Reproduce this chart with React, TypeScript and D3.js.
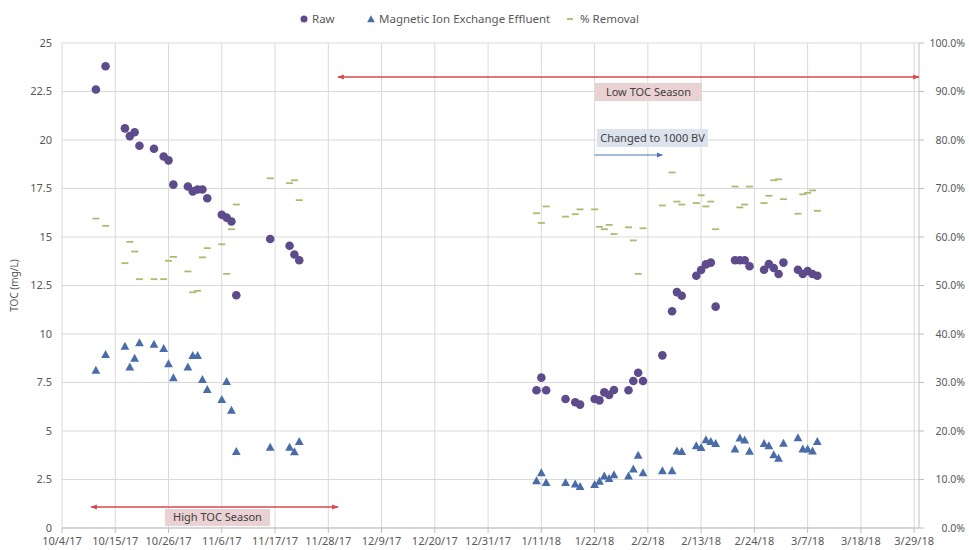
import React from "react";
import * as d3 from "d3";

const dates = [
  "2017-10-11","2017-10-13","2017-10-17","2017-10-18","2017-10-19","2017-10-20","2017-10-23","2017-10-25","2017-10-26","2017-10-27",
  "2017-10-30","2017-10-31","2017-11-01","2017-11-02","2017-11-03","2017-11-06","2017-11-07","2017-11-08","2017-11-09","2017-11-16",
  "2017-11-20","2017-11-21","2017-11-22",
  "2018-01-10","2018-01-11","2018-01-12","2018-01-16","2018-01-18","2018-01-19","2018-01-22","2018-01-23","2018-01-24","2018-01-25",
  "2018-01-26","2018-01-29","2018-01-30","2018-01-31","2018-02-01","2018-02-05","2018-02-07","2018-02-08","2018-02-09","2018-02-12",
  "2018-02-13","2018-02-14","2018-02-15","2018-02-16","2018-02-20","2018-02-21","2018-02-22","2018-02-23","2018-02-26","2018-02-27",
  "2018-02-28","2018-03-01","2018-03-02","2018-03-05","2018-03-06","2018-03-07","2018-03-08","2018-03-09",
];

const raw = [
  22.6,23.8,20.6,20.2,20.4,19.7,19.55,19.15,18.95,17.7,
  17.6,17.35,17.45,17.45,17.0,16.15,16.0,15.8,12.0,14.9,
  14.55,14.1,13.8,
  7.1,7.75,7.1,6.65,6.48,6.36,6.65,6.58,6.99,6.86,
  7.11,7.1,7.58,8.0,7.58,8.9,11.17,12.16,11.97,13.0,
  13.3,13.59,13.68,11.41,13.8,13.8,13.8,13.49,13.31,13.6,
  13.4,13.09,13.68,13.31,13.09,13.25,13.09,13.0,
];

const effluent = [
  8.14,8.95,9.37,8.3,8.76,9.55,9.48,9.26,8.47,7.75,
  8.3,8.9,8.9,7.66,7.15,6.63,7.56,6.07,3.95,4.17,
  4.17,3.93,4.47,
  2.44,2.85,2.35,2.35,2.27,2.15,2.25,2.42,2.68,2.56,
  2.75,2.68,3.04,3.76,2.85,2.95,2.95,3.97,3.95,4.25,
  4.15,4.55,4.47,4.36,4.08,4.64,4.54,3.96,4.36,4.25,
  3.78,3.6,4.37,4.66,4.08,4.08,3.97,4.47,
];

const removalPct = [
  63.8,62.3,54.6,59.0,57.0,51.3,51.3,51.3,55.1,55.9,
  52.9,48.6,48.9,55.8,57.7,58.5,52.4,61.6,66.7,72.1,
  71.1,71.7,67.6,
  64.9,62.9,66.3,64.2,64.7,65.7,65.7,62.1,61.6,62.5,
  60.6,62.0,59.3,52.4,61.8,66.5,73.3,67.3,66.7,67.0,
  68.6,66.3,67.3,61.6,70.4,66.1,66.7,70.4,67.0,68.5,
  71.7,71.9,67.8,64.8,68.8,69.1,69.6,65.4,
];

const leftTicks = [0, 2.5, 5, 7.5, 10, 12.5, 15, 17.5, 20, 22.5, 25];
const rightTicks = [0, 0.1, 0.2, 0.3, 0.4, 0.5, 0.6, 0.7, 0.8, 0.9, 1.0];
const xTickCount = 17;
const xTickStepDays = 11;
const seriesNames = ["Raw", "Magnetic Ion Exchange Effluent", "% Removal"];

const W = 969, H = 550;
const L = 62, R = 919, T = 43, B = 528;
const COL_RAW = "#5d4b8c";
const COL_EFF = "#4a6da8";
const COL_REM = "#b3b870";
const GRID = "#d9d9d9";
const TXT = "#595959";
const FONT = "'Noto Sans', 'Open Sans', sans-serif";
const RED = "#d9474a";

const parse = d3.utcParse("%Y-%m-%d");
const fmt = d3.utcFormat("%-m/%-d/%y");
const start = new Date(Date.UTC(2017, 9, 4));
const end = new Date(Date.UTC(2018, 2, 30));

export default function App() {
  const x = d3.scaleUtc().domain([start, end]).range([L, R]);
  const yL = d3.scaleLinear().domain([0, 25]).range([B, T]);
  const yR = d3.scaleLinear().domain([0, 1]).range([B, T]);
  const xTicks = d3.range(xTickCount).map(
    (i) => new Date(Date.UTC(2017, 9, 4 + i * xTickStepDays))
  );
  const pts = dates.map((d, i) => ({
    x: x(parse(d) as Date),
    raw: yL(raw[i]),
    eff: yL(effluent[i]),
    rem: yR(removalPct[i] / 100),
  }));
  const tri = (cx: number, cy: number, s: number) =>
    `M${cx},${cy - s * 0.55}L${cx + s * 0.55},${cy + s * 0.45}L${cx - s * 0.55},${cy + s * 0.45}Z`;

  const arrowLowY = 77;
  const arrowHighY = 507;
  const arrowBlueY = 155;
  const lowX0 = x(new Date(Date.UTC(2017, 10, 30)));
  const highX0 = x(new Date(Date.UTC(2017, 9, 10)));
  const blueX0 = x(new Date(Date.UTC(2018, 0, 22)));
  const blueX1 = x(new Date(Date.UTC(2018, 1, 5)));

  return (
    <svg
      width={W}
      height={H}
      style={{ position: "absolute", left: 0, top: 0, background: "#fff" }}
      fontFamily={FONT}
    >
      <defs>
        <marker id="redEnd" viewBox="0 0 10 10" refX="9" refY="5" markerWidth="5" markerHeight="5" orient="auto">
          <path d="M0,1L10,5L0,9Z" fill={RED} />
        </marker>
        <marker id="redStart" viewBox="0 0 10 10" refX="1" refY="5" markerWidth="5" markerHeight="5" orient="auto">
          <path d="M10,1L0,5L10,9Z" fill={RED} />
        </marker>
        <marker id="blueEnd" viewBox="0 0 10 10" refX="9" refY="5" markerWidth="5" markerHeight="5" orient="auto">
          <path d="M0,1L10,5L0,9Z" fill="#4f74b8" />
        </marker>
      </defs>
      <rect width={W} height={H} fill="#fff" />

      {/* grid */}
      {leftTicks.map((t) => (
        <line key={"h" + t} x1={L} x2={R} y1={yL(t)} y2={yL(t)} stroke={GRID} strokeWidth={1} />
      ))}
      {xTicks.map((t, i) => (
        <line key={"v" + i} x1={x(t)} x2={x(t)} y1={T} y2={B} stroke={GRID} strokeWidth={1} />
      ))}
      <line x1={R} x2={R} y1={T} y2={B} stroke="#bfbfbf" />
      <line x1={L} x2={R} y1={B} y2={B} stroke="#bfbfbf" />
      {xTicks.map((t, i) => (
        <line key={"xt" + i} x1={x(t)} x2={x(t)} y1={B} y2={B + 5} stroke="#bfbfbf" />
      ))}
      {rightTicks.map((t) => (
        <line key={"rt" + t} x1={R} x2={R + 5} y1={yR(t)} y2={yR(t)} stroke="#bfbfbf" />
      ))}

      {/* axis labels */}
      {leftTicks.map((t) => (
        <text key={"lt" + t} x={L - 10} y={yL(t)} dy="0.35em" textAnchor="end" fontSize={11} fill={TXT}>
          {String(t)}
        </text>
      ))}
      {rightTicks.map((t) => (
        <text key={"rl" + t} x={965} y={yR(t)} dy="0.35em" textAnchor="end" fontSize={10.5} fill={TXT}>
          {(t * 100).toFixed(1) + "%"}
        </text>
      ))}
      {xTicks.map((t, i) => (
        <text key={"xl" + i} x={x(t)} y={545} textAnchor="middle" fontSize={11} fill={TXT}>
          {fmt(t)}
        </text>
      ))}
      <text
        transform={`translate(18,${(T + B) / 2}) rotate(-90)`}
        textAnchor="middle"
        fontSize={10}
        fill={TXT}
      >
        TOC (mg/L)
      </text>

      {/* annotations */}
      <line x1={lowX0} x2={R} y1={arrowLowY} y2={arrowLowY} stroke={RED} strokeWidth={1.3}
        markerStart="url(#redStart)" markerEnd="url(#redEnd)" />
      <rect x={595} y={83} width={107} height={18} fill="#ead1d4" />
      <text x={648.5} y={92} dy="0.35em" textAnchor="middle" fontSize={11} fill="#404040">Low TOC Season</text>

      <rect x={597} y={129} width={111} height={18} fill="#dde3ee" />
      <text x={652.5} y={138} dy="0.35em" textAnchor="middle" fontSize={11} fill="#404040">Changed to 1000 BV</text>
      <line x1={blueX0} x2={blueX1} y1={arrowBlueY} y2={arrowBlueY} stroke="#4f74b8" strokeWidth={1.2}
        markerEnd="url(#blueEnd)" />

      <line x1={highX0} x2={lowX0} y1={arrowHighY} y2={arrowHighY} stroke={RED} strokeWidth={1.3}
        markerStart="url(#redStart)" markerEnd="url(#redEnd)" />
      <rect x={165} y={509} width={105} height={17} fill="#ead1d4" />
      <text x={217.5} y={517.5} dy="0.35em" textAnchor="middle" fontSize={11} fill="#404040">High TOC Season</text>

      {/* series */}
      {pts.map((p, i) => (
        <line key={"rm" + i} x1={p.x - 3.5} x2={p.x + 3.5} y1={p.rem} y2={p.rem} stroke={COL_REM} strokeWidth={1.8} />
      ))}
      {pts.map((p, i) => (
        <path key={"ef" + i} d={tri(p.x, p.eff, 8)} fill={COL_EFF} />
      ))}
      {pts.map((p, i) => (
        <circle key={"rw" + i} cx={p.x} cy={p.raw} r={4.3} fill={COL_RAW} />
      ))}

      {/* legend */}
      <g fontSize={11.5} fill={TXT}>
        <circle cx={304} cy={19} r={3.5} fill={COL_RAW} />
        <text x={312} y={19} dy="0.35em">{seriesNames[0]}</text>
        <path d={tri(371, 19, 7)} fill={COL_EFF} />
        <text x={379} y={19} dy="0.35em">{seriesNames[1]}</text>
        <line x1={567} x2={573} y1={19} y2={19} stroke={COL_REM} strokeWidth={1.8} />
        <text x={580} y={19} dy="0.35em">{seriesNames[2]}</text>
      </g>
    </svg>
  );
}
